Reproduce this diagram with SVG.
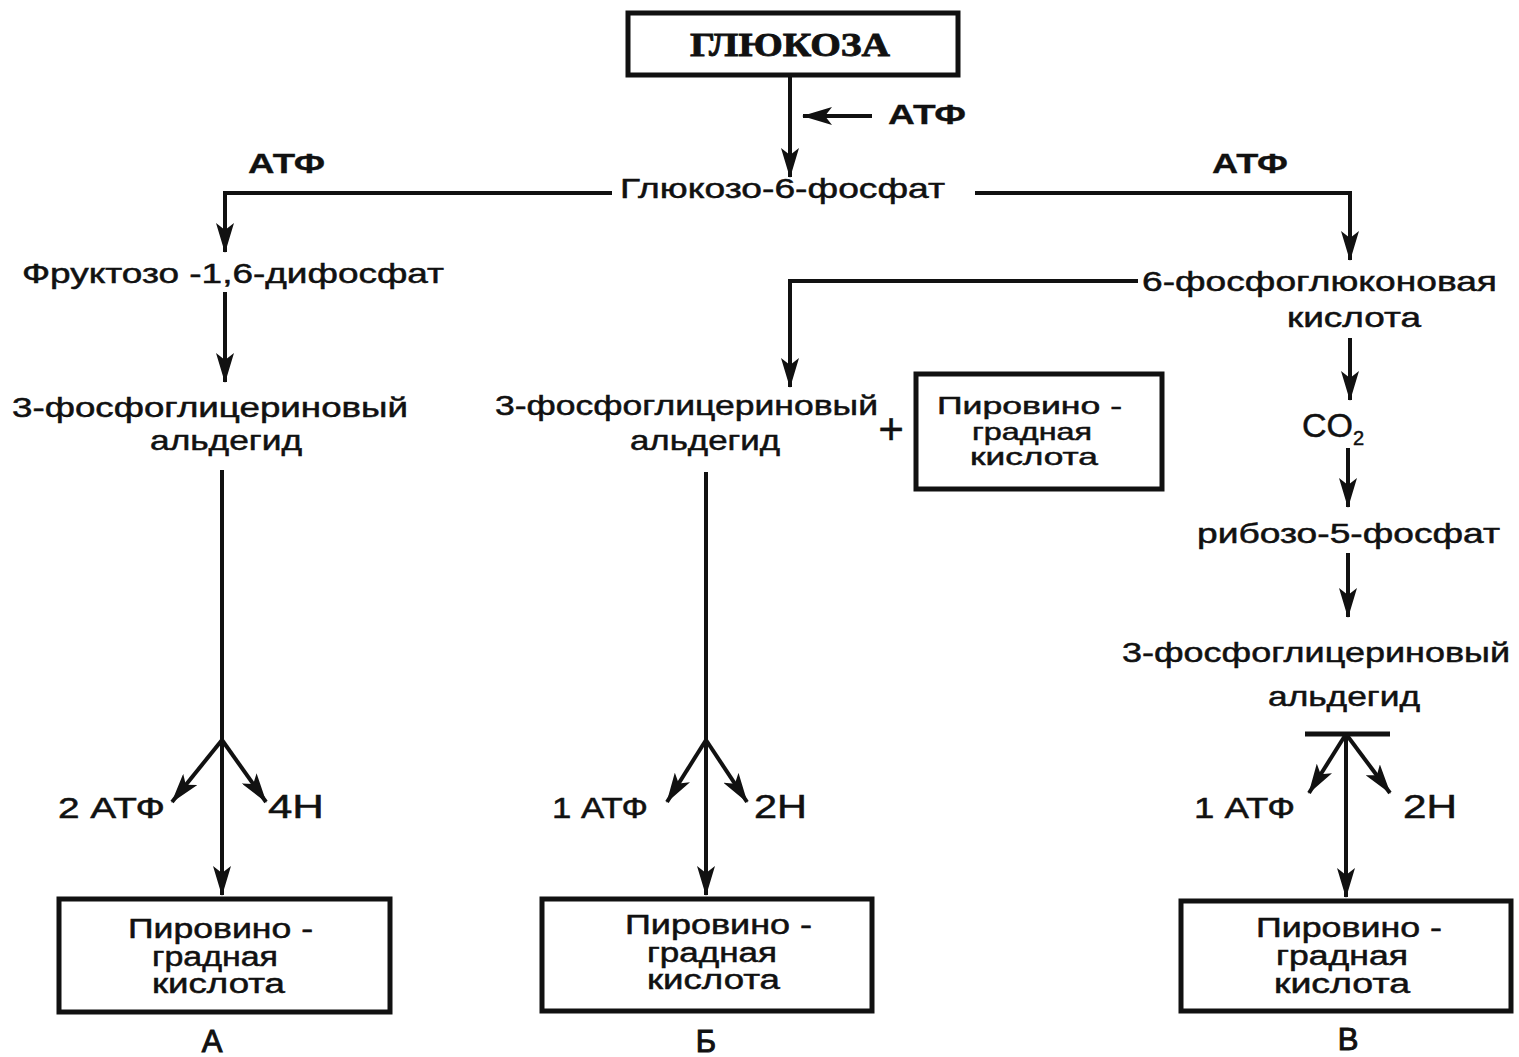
<svg xmlns="http://www.w3.org/2000/svg" width="1519" height="1057" viewBox="0 0 1519 1057">
<style>
.t{font-family:"Liberation Sans",Arial,sans-serif;font-size:28px;fill:#111;stroke:#111;stroke-width:0.5px;}
.b{font-weight:bold;stroke-width:0.3px;}
.bx{font-size:27px;}
.bm{font-size:24px;}
.box{fill:none;stroke:#111;stroke-width:5;}
.ln{fill:none;stroke:#111;stroke-width:4;}
.ar{fill:none;stroke:#111;stroke-width:4;marker-end:url(#ah);}
</style>
<defs>
<marker id="ah" markerUnits="userSpaceOnUse" markerWidth="30" markerHeight="18" refX="29" refY="9" viewBox="0 0 30 18" orient="auto">
<path d="M0,0 L30,9 L0,18 L7,9 Z" fill="#111"/>
</marker>
</defs>
<rect width="1519" height="1057" fill="#fff"/>
<g id="connectors">
<path class="ar" d="M790,76 V177"/>
<path class="ar" d="M872,116 H803"/>
<path class="ar" d="M612,193 H225 V252"/>
<path class="ar" d="M975,193 H1350 V260"/>
<path class="ar" d="M225,292 V382"/>
<path class="ar" d="M1138,281 H790 V387"/>
<path class="ar" d="M1350,338 V400"/>
<path class="ar" d="M1348,448 V507"/>
<path class="ar" d="M1348,553 V617"/>
<path class="ln" d="M222,470 V740"/>
<path class="ar" d="M222,740 L172,802"/>
<path class="ar" d="M222,740 L266,802"/>
<path class="ar" d="M222,740 V895"/>
<path class="ln" d="M706,472 V740"/>
<path class="ar" d="M706,740 L667,802"/>
<path class="ar" d="M706,740 L747,802"/>
<path class="ar" d="M706,740 V895"/>
<path class="ln" d="M1305,734 H1390" style="stroke-width:5"/>
<path class="ar" d="M1346,734 L1309,793"/>
<path class="ar" d="M1346,734 L1390,793"/>
<path class="ar" d="M1346,734 V897"/>
</g>
<g id="glucose">
<rect class="box" x="628" y="13" width="330" height="62"/>
<text class="t b" x="690" y="56" textLength="200" lengthAdjust="spacingAndGlyphs" style="font-size:33px;font-family:'Liberation Serif',serif;stroke-width:0.8px">ГЛЮКОЗА</text>
</g>
<g id="atf-top"><text class="t b" x="888" y="124" textLength="78" lengthAdjust="spacingAndGlyphs" style="font-size:27px">АТФ</text></g>
<g id="g6p"><text class="t" x="620" y="198" textLength="325" lengthAdjust="spacingAndGlyphs">Глюкозо-6-фосфат</text></g>
<g id="atf-left"><text class="t b" x="248" y="173" textLength="77" lengthAdjust="spacingAndGlyphs" style="font-size:27px">АТФ</text></g>
<g id="atf-right"><text class="t b" x="1212" y="173" textLength="76" lengthAdjust="spacingAndGlyphs" style="font-size:27px">АТФ</text></g>
<g id="f16dp"><text class="t" x="22" y="283" textLength="422" lengthAdjust="spacingAndGlyphs">Фруктозо -1,6-дифосфат</text></g>
<g id="pga-a">
<text class="t" x="12" y="417" textLength="396" lengthAdjust="spacingAndGlyphs">3-фосфоглицериновый</text>
<text class="t" x="150" y="450" textLength="152" lengthAdjust="spacingAndGlyphs">альдегид</text>
</g>
<g id="pgk">
<text class="t" x="1142" y="291" textLength="355" lengthAdjust="spacingAndGlyphs">6-фосфоглюконовая</text>
<text class="t" x="1287" y="327" textLength="134" lengthAdjust="spacingAndGlyphs">кислота</text>
</g>
<g id="pga-b">
<text class="t" x="495" y="415" textLength="383" lengthAdjust="spacingAndGlyphs">3-фосфоглицериновый</text>
<text class="t" x="630" y="450" textLength="150" lengthAdjust="spacingAndGlyphs">альдегид</text>
</g>
<g id="plus"><text class="t" x="891" y="444" text-anchor="middle" style="font-size:44px;stroke-width:0.4px">+</text></g>
<g id="pyr-mid">
<rect class="box" x="916" y="374" width="246" height="115"/>
<text class="t bm" x="937" y="414" textLength="185" lengthAdjust="spacingAndGlyphs">Пировино -</text>
<text class="t bm" x="972" y="440" textLength="120" lengthAdjust="spacingAndGlyphs">градная</text>
<text class="t bm" x="970" y="465" textLength="128" lengthAdjust="spacingAndGlyphs">кислота</text>
</g>
<g id="co2"><text class="t" x="1302" y="437" style="font-size:34px">CO<tspan dy="8" style="font-size:20px">2</tspan></text></g>
<g id="r5p"><text class="t" x="1197" y="543" textLength="303" lengthAdjust="spacingAndGlyphs">рибозо-5-фосфат</text></g>
<g id="pga-c">
<text class="t" x="1122" y="662" textLength="388" lengthAdjust="spacingAndGlyphs">3-фосфоглицериновый</text>
<text class="t" x="1268" y="706" textLength="152" lengthAdjust="spacingAndGlyphs">альдегид</text>
</g>
<g id="prod-a">
<text class="t" x="58" y="818" textLength="107" lengthAdjust="spacingAndGlyphs" style="font-size:30px">2 АТФ</text>
<text class="t" x="268" y="818" textLength="56" lengthAdjust="spacingAndGlyphs" style="font-size:33px">4Н</text>
</g>
<g id="prod-b">
<text class="t" x="552" y="818" textLength="96" lengthAdjust="spacingAndGlyphs" style="font-size:30px">1 АТФ</text>
<text class="t" x="754" y="818" textLength="53" lengthAdjust="spacingAndGlyphs" style="font-size:33px">2Н</text>
</g>
<g id="prod-c">
<text class="t" x="1194" y="818" textLength="101" lengthAdjust="spacingAndGlyphs" style="font-size:30px">1 АТФ</text>
<text class="t" x="1403" y="818" textLength="54" lengthAdjust="spacingAndGlyphs" style="font-size:33px">2Н</text>
</g>
<g id="pyr-a">
<rect class="box" x="59" y="899" width="331" height="113"/>
<text class="t bx" x="128" y="938" textLength="185" lengthAdjust="spacingAndGlyphs">Пировино -</text>
<text class="t bx" x="152" y="966" textLength="126" lengthAdjust="spacingAndGlyphs">градная</text>
<text class="t bx" x="152" y="993" textLength="133" lengthAdjust="spacingAndGlyphs">кислота</text>
<text class="t" x="212" y="1052" text-anchor="middle" style="font-size:31px;stroke-width:1px">А</text>
</g>
<g id="pyr-b">
<rect class="box" x="542" y="899" width="330" height="112"/>
<text class="t bx" x="625" y="934" textLength="187" lengthAdjust="spacingAndGlyphs">Пировино -</text>
<text class="t bx" x="647" y="962" textLength="130" lengthAdjust="spacingAndGlyphs">градная</text>
<text class="t bx" x="647" y="989" textLength="133" lengthAdjust="spacingAndGlyphs">кислота</text>
<text class="t" x="706" y="1052" text-anchor="middle" style="font-size:31px;stroke-width:1px">Б</text>
</g>
<g id="pyr-c">
<rect class="box" x="1181" y="901" width="330" height="110"/>
<text class="t bx" x="1256" y="937" textLength="186" lengthAdjust="spacingAndGlyphs">Пировино -</text>
<text class="t bx" x="1276" y="965" textLength="132" lengthAdjust="spacingAndGlyphs">градная</text>
<text class="t bx" x="1274" y="993" textLength="136" lengthAdjust="spacingAndGlyphs">кислота</text>
<text class="t" x="1348" y="1050" text-anchor="middle" style="font-size:31px;stroke-width:1px">В</text>
</g>
</svg>
